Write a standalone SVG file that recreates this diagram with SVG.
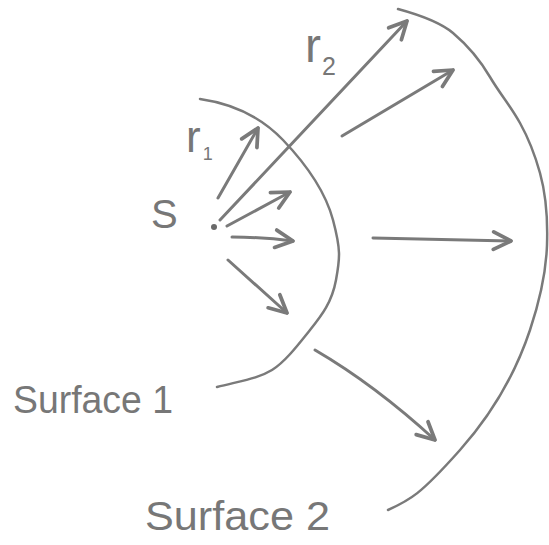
<svg xmlns="http://www.w3.org/2000/svg" width="549" height="545" viewBox="0 0 549 545">
<style>
.surf{fill:none;stroke:#7a7a7a;stroke-width:2.5;stroke-linecap:round}
.arr{fill:none;stroke:#7a7a7a;stroke-width:3;stroke-linecap:round;marker-end:url(#head)}
.lbl{font-family:"Liberation Sans",Arial,sans-serif;fill:#777}
</style>
<defs>
<marker id="head" markerUnits="userSpaceOnUse" markerWidth="30" markerHeight="30" viewBox="-20 -12 24 24" refX="0" refY="0" orient="auto">
<path d="M-14,-7 L0,0 L-14,7" fill="none" stroke="#7a7a7a" stroke-width="3" stroke-linecap="round" stroke-linejoin="round"/>
</marker>
</defs>
<rect width="549" height="545" fill="#fff"/>
<g id="surface1">
<path class="surf" d="M200,99 C235,104 262,118 283,140 S325,190 333,220 S340,258 336,280 S322,315 310,330 S285,362 272,370 S245,380 217,387"/>
<text class="lbl" x="13" y="413" font-size="38" textLength="160" lengthAdjust="spacingAndGlyphs">Surface 1</text>
</g>
<g id="surface2">
<path class="surf" d="M398,9 C420,15 440,22 453,33 S480,60 490,77 S510,105 520,123 S535,155 540,173 S548,215 547,245 S540,300 530,330 S500,405 460,450 S410,500 388,510"/>
<text class="lbl" x="145" y="530" font-size="40" textLength="185" lengthAdjust="spacingAndGlyphs">Surface 2</text>
</g>
<g id="source">
<circle cx="214" cy="227" r="3" fill="#6a6a6a"/>
<text class="lbl" x="151" y="228" font-size="40">S</text>
</g>
<g id="label-r1">
<text class="lbl" x="186" y="152" font-size="44">r<tspan font-size="18" dx="2" dy="8">1</tspan></text>
</g>
<g id="label-r2">
<text class="lbl" x="305" y="62" font-size="48">r<tspan font-size="25" dx="1" dy="13">2</tspan></text>
</g>
<g id="connectors">
<path class="arr" d="M218,198 L258,128"/>
<path class="arr" d="M220,220 L407,21"/>
<path class="arr" d="M227,226 L290,192"/>
<path class="arr" d="M232,237 Q262,237 293,241"/>
<path class="arr" d="M228,260 L287,313"/>
<path class="arr" d="M342,136 L453,70"/>
<path class="arr" d="M373,238 L511,241"/>
<path class="arr" d="M315,350 Q375,385 435,440"/>
</g>
</svg>
